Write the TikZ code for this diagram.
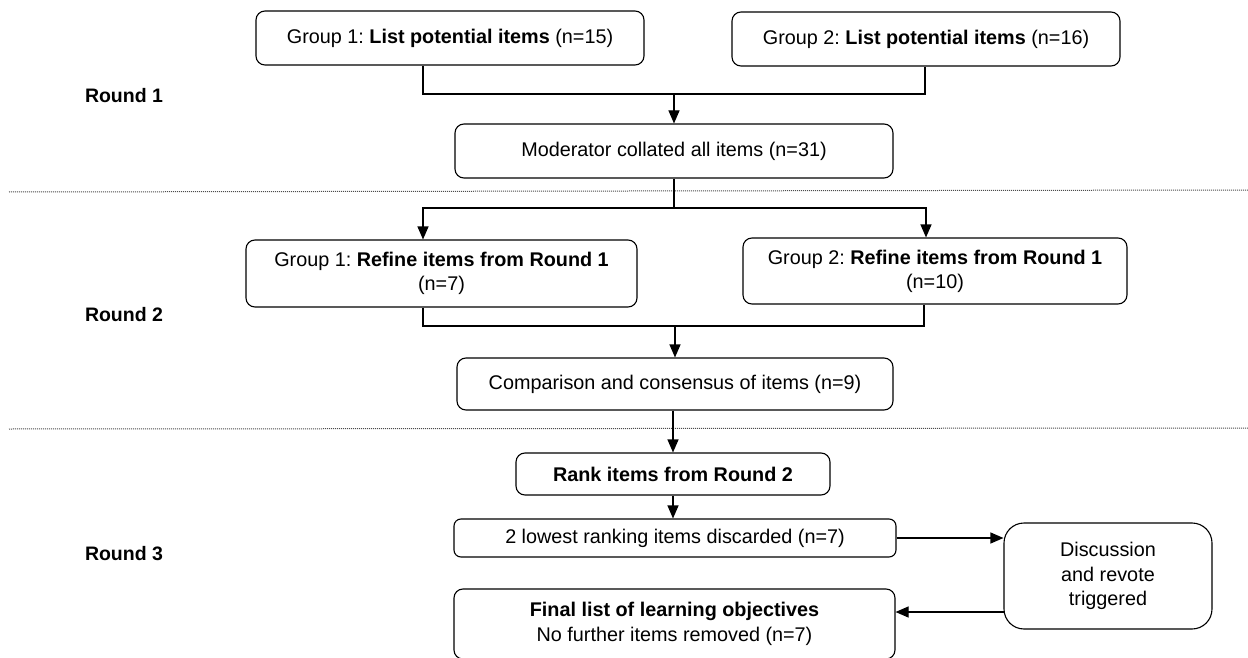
\documentclass[tikz,border=0pt]{standalone}
\usepackage{fontspec}
\setmainfont{Liberation Sans}
\usetikzlibrary{arrows.meta}
\begin{document}
\begin{tikzpicture}[x=1pt,y=-1pt,
  box/.style={draw, line width=1.1pt, rounded corners=9pt, inner sep=0pt, align=center,
    font=\fontsize{19.8}{24}\selectfont},
  lbl/.style={font=\fontsize{19.5}{23}\selectfont\bfseries},
  conn/.style={line width=1.1pt},
  arr/.style={line width=1.1pt, -{Triangle[width=11pt,length=13pt]}},
  sep/.style={line width=1pt, black!70, dash pattern=on 1pt off 1pt}]
\useasboundingbox (0,0) rectangle (1248,658);
% round labels
\node[lbl] (r1) at (124,96) {Round 1};
\node[lbl] (r2) at (124,315) {Round 2};
\node[lbl] (r3) at (124,554) {Round 3};
% separators
\coordinate (s1a) at (9,192); \coordinate (s1b) at (1248,190);
\coordinate (s2a) at (9,429); \coordinate (s2b) at (1248,428);
\draw[sep] (s1a) -- (s1b);
\draw[sep] (s2a) -- (s2b);
% round 1
\node[box, minimum width=388pt, minimum height=54pt] (g1) at (450,38) {Group 1:\ \textbf{List potential items} (n=15)};
\node[box, minimum width=388pt, minimum height=54pt] (g2) at (926,39) {Group 2:\ \textbf{List potential items} (n=16)};
\node[box, minimum width=438pt, minimum height=54pt] (mod) at (674,151) {Moderator collated all items (n=31)};
\coordinate (b1) at (423,94); \coordinate (b2) at (925,94);
\draw[conn] (g1.south -| b1) -- (b1) -- (b2) -- (g2.south -| b2);
\draw[arr] (mod.north |- b1) -- (mod.north);
% round 2
\node[box, minimum width=391pt, minimum height=67pt] (h1) at (441.5,273.5) {Group 1:\ \textbf{Refine items from Round 1}\\(n=7)};
\node[box, minimum width=384pt, minimum height=66pt] (h2) at (935,271) {Group 2:\ \textbf{Refine items from Round 1}\\(n=10)};
\node[box, minimum width=436pt, minimum height=52pt] (cmp) at (675,384) {Comparison and consensus of items (n=9)};
\coordinate (c1) at (423,208); \coordinate (c2) at (926,208);
\draw[arr] (mod.south) |- (c1) -- (h1.north -| c1);
\draw[arr] (mod.south |- c1) -- (c2) -- (h2.north -| c2);
\coordinate (d1) at (423,326); \coordinate (d2) at (924,326);
\draw[conn] (h1.south -| d1) -- (d1) -- (d2) -- (h2.south -| d2);
\draw[arr] (cmp.north |- d1) -- (cmp.north);
% round 3
\node[box, minimum width=314pt, minimum height=42pt, font=\fontsize{19.8}{24}\selectfont\bfseries] (rank) at (673,474) {Rank items from Round 2};
\node[box, minimum width=442pt, minimum height=38pt, rounded corners=7pt] (disc) at (675,538) {2 lowest ranking items discarded (n=7)};
\node[box, minimum width=441pt, minimum height=70pt, font=\fontsize{19.8}{25}\selectfont] (fin) at (674.5,624) {\textbf{Final list of learning objectives}\\No further items removed (n=7)};
\node[box, minimum width=208pt, minimum height=106pt, rounded corners=20pt, font=\fontsize{19.8}{24.5}\selectfont] (dis) at (1108,576) {Discussion\\and revote\\triggered};
\draw[arr] (cmp.south -| rank.north) -- (rank.north);
\draw[arr] (rank.south) -- (rank.south |- disc.north);
\draw[arr] (disc.east) -- (dis.west |- disc.east);
\coordinate (e1) at (1004,612);
\draw[arr] (e1) -- (fin.east |- e1);
\end{tikzpicture}
\end{document}
